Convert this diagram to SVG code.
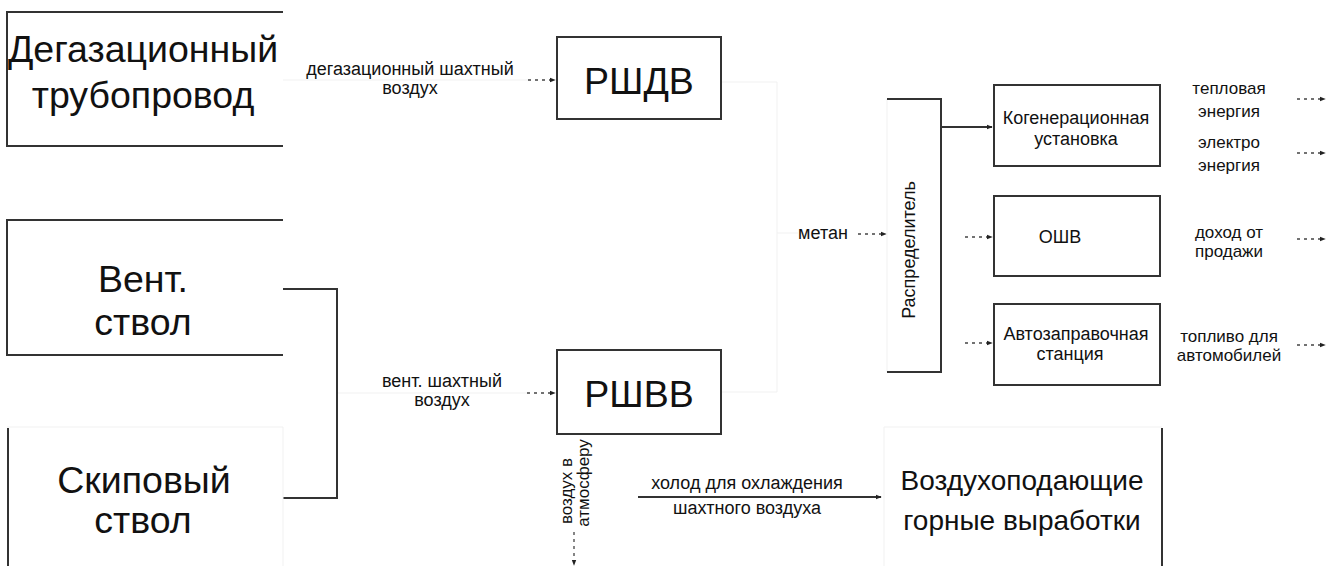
<svg xmlns="http://www.w3.org/2000/svg" width="1334" height="566" viewBox="0 0 1334 566">
  <style>
    .big { font-family: "Liberation Sans", Arial, sans-serif; font-size: 37.5px; fill: #111; text-anchor: middle; }
    .mid { font-family: "Liberation Sans", Arial, sans-serif; font-size: 28px; fill: #111; text-anchor: middle; }
    .sm { font-family: "Liberation Sans", Arial, sans-serif; font-size: 17px; fill: #111; text-anchor: middle; }
    .md { font-family: "Liberation Sans", Arial, sans-serif; font-size: 18px; fill: #111; text-anchor: middle; }
    .edge { fill: none; stroke: #333; stroke-width: 2; }
    .faint { fill: none; stroke: #f1f1f1; stroke-width: 1; }
    .dash { fill: none; stroke: #444; stroke-width: 1.3; stroke-dasharray: 3 4; }
    .solid { fill: none; stroke: #333; stroke-width: 2; }
  </style>
  <defs>
    <marker id="ah" viewBox="0 0 8 8" refX="7" refY="4" markerWidth="6" markerHeight="6" markerUnits="userSpaceOnUse" orient="auto">
      <path d="M0,1 L8,4 L0,7 Z" fill="#222"/>
    </marker>
  </defs>
  <rect width="1334" height="566" fill="#fff"/>

  <g id="connectors">
    <path class="faint" d="M283,80 H528"/>
    <path class="faint" d="M721,82 H777 V392 H721"/>
    <path class="faint" d="M777,233 H798"/>
    <path class="faint" d="M337,393 H527"/>
    <path class="dash" d="M528,80 H555" marker-end="url(#ah)"/>
    <path class="dash" d="M527,393 H555" marker-end="url(#ah)"/>
    <path class="dash" d="M858,234 H886" marker-end="url(#ah)"/>
    <path class="dash" d="M965,237 H992" marker-end="url(#ah)"/>
    <path class="dash" d="M965,343 H992" marker-end="url(#ah)"/>
    <path class="dash" d="M1297,99 H1325" marker-end="url(#ah)"/>
    <path class="dash" d="M1297,153 H1325" marker-end="url(#ah)"/>
    <path class="dash" d="M1297,239 H1325" marker-end="url(#ah)"/>
    <path class="dash" d="M1297,345 H1325" marker-end="url(#ah)"/>
    <path class="dash" d="M574,532 V565" marker-end="url(#ah)"/>
    <path class="solid" d="M941,127 H992" marker-end="url(#ah)"/>
    <path class="solid" d="M638,497 H881" marker-end="url(#ah)"/>
    <path class="edge" d="M283,289 H337 V498 H283"/>
    <text class="md" x="410" y="75">дегазационный шахтный</text>
    <text class="md" x="410" y="94">воздух</text>
    <text class="md" x="442" y="387">вент. шахтный</text>
    <text class="md" x="442" y="406">воздух</text>
    <text class="md" x="823" y="239">метан</text>
    <text class="md" x="747" y="489">холод для охлаждения</text>
    <text class="md" x="747" y="514">шахтного воздуха</text>
    <text class="sm" transform="translate(572,491) rotate(-90)">воздух в</text>
    <text class="sm" transform="translate(589,483) rotate(-90)">атмосферу</text>
    <text class="sm" x="1229" y="94">тепловая</text>
    <text class="sm" x="1229" y="117">энергия</text>
    <text class="sm" x="1229" y="148">электро</text>
    <text class="sm" x="1229" y="171">энергия</text>
    <text class="sm" x="1229" y="238">доход от</text>
    <text class="sm" x="1229" y="257">продажи</text>
    <text class="sm" x="1229" y="342">топливо для</text>
    <text class="sm" x="1229" y="361">автомобилей</text>
  </g>

  <g id="node-degas">
    <path class="edge" d="M283,12 H7 V146 H283"/>
    <text class="big" x="143" y="62">Дегазационный</text>
    <text class="big" x="143" y="108">трубопровод</text>
  </g>

  <g id="node-vent">
    <path class="edge" d="M283,220 H7 V355 H283"/>
    <text class="big" x="143" y="292">Вент.</text>
    <text class="big" x="143" y="335">ствол</text>
  </g>

  <g id="node-skip">
    <path class="faint" d="M7,427 H283 V566"/>
    <path class="edge" d="M8,428 V566"/>
    <text class="big" x="144" y="493">Скиповый</text>
    <text class="big" x="143" y="533">ствол</text>
  </g>

  <g id="node-rshdv">
    <rect class="edge" x="557" y="37" width="164" height="82"/>
    <text class="big" x="639" y="94">РШДВ</text>
  </g>

  <g id="node-rshvv">
    <rect class="edge" x="557" y="350" width="164" height="84"/>
    <text class="big" x="639" y="407">РШВВ</text>
  </g>

  <g id="node-distributor">
    <path class="faint" d="M887,99 V372"/>
    <path class="edge" d="M887,99 H941 V372 H887"/>
    <text class="md" transform="translate(915,250) rotate(-90)">Распределитель</text>
  </g>

  <g id="node-cogen">
    <rect class="edge" x="994" y="85" width="166" height="81"/>
    <text class="md" x="1076" y="124">Когенерационная</text>
    <text class="md" x="1076" y="145">установка</text>
  </g>

  <g id="node-oshv">
    <rect class="edge" x="994" y="196" width="166" height="80"/>
    <text class="md" x="1060" y="243">ОШВ</text>
  </g>

  <g id="node-azs">
    <rect class="edge" x="994" y="304" width="166" height="81"/>
    <text class="md" x="1076" y="340">Автозаправочная</text>
    <text class="md" x="1070" y="360">станция</text>
  </g>

  <g id="node-workings">
    <path class="faint" d="M1162,427 H884 V566"/>
    <path class="edge" d="M1162,428 V566"/>
    <text class="mid" x="1022" y="490">Воздухоподающие</text>
    <text class="mid" x="1022" y="530">горные выработки</text>
  </g>
</svg>
